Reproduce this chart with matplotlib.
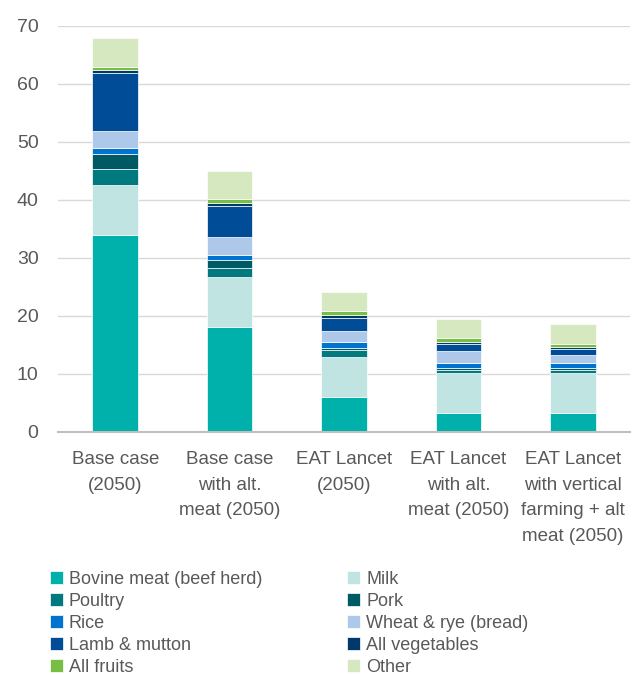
import matplotlib.pyplot as plt
import numpy as np

plt.rcParams['font.family'] = 'Liberation Sans'

# Scenario labels
scenarios = [
    'Base case\n(2050)',
    'Base case\nwith alt.\nmeat (2050)',
    'EAT Lancet\n(2050)',
    'EAT Lancet\nwith alt.\nmeat (2050)',
    'EAT Lancet\nwith vertical\nfarming + alt\nmeat (2050)',
]

# Stack segments, bottom to top
bovine = [33.9, 18.1, 6.0, 3.2, 3.2]
milk = [8.7, 8.7, 6.9, 6.9, 6.9]
poultry = [2.8, 1.5, 1.2, 0.6, 0.6]
pork = [2.6, 1.4, 0.4, 0.3, 0.3]
rice = [1.0, 0.9, 1.0, 0.9, 0.9]
wheat = [2.9, 3.0, 2.0, 2.1, 1.4]
lamb = [10.0, 5.4, 2.2, 1.1, 1.0]
vegetables = [0.5, 0.4, 0.4, 0.4, 0.4]
fruits = [0.6, 0.7, 0.7, 0.7, 0.5]
other = [5.0, 4.9, 3.3, 3.3, 3.4]

series = [
    ('Bovine meat (beef herd)', bovine, '#00B0AA'),
    ('Milk', milk, '#BFE4E1'),
    ('Poultry', poultry, '#007A7E'),
    ('Pork', pork, '#005A64'),
    ('Rice', rice, '#0073CF'),
    ('Wheat & rye (bread)', wheat, '#ADC8E8'),
    ('Lamb & mutton', lamb, '#004C97'),
    ('All vegetables', vegetables, '#003A6B'),
    ('All fruits', fruits, '#78BE44'),
    ('Other', other, '#D5E8C0'),
]

text_col = '#595959'

fig = plt.figure(figsize=(6.42, 6.75), dpi=100)
ax = fig.add_axes([58 / 642, 1 - 432 / 675, 572 / 642, 406 / 675])

x = np.arange(len(scenarios))
bottom = np.zeros(len(scenarios))
handles = []
for name, vals, col in series:
    b = ax.bar(x, vals, 0.4, bottom=bottom, color=col, edgecolor='white',
               linewidth=0.5, label=name, zorder=3)
    handles.append(b)
    bottom += np.array(vals)

ax.set_xlim(-0.5, 4.5)
ax.set_ylim(0, 70)
ax.set_yticks(range(0, 71, 10))
ax.yaxis.grid(True, color='#D9D9D9', linewidth=1, zorder=0)
ax.set_axisbelow(True)
for s in ['top', 'right', 'left']:
    ax.spines[s].set_visible(False)
ax.spines['bottom'].set_color('#BFBFBF')
ax.spines['bottom'].set_linewidth(1.5)
ax.spines['bottom'].set_zorder(4)
ax.tick_params(axis='both', length=0, labelsize=14, colors=text_col)
ax.tick_params(axis='y', pad=14)
ax.tick_params(axis='x', pad=14)
ax.set_xticks(x)
ax.set_xticklabels(scenarios, fontsize=13.5, color=text_col, linespacing=1.65)

# legend: row-wise order in the original, matplotlib fills column-first
order = [0, 2, 4, 6, 8, 1, 3, 5, 7, 9]
fig.legend([handles[i] for i in order], [series[i][0] for i in order],
           loc='upper left', bbox_to_anchor=(50 / 642, 1 - 571 / 675),
           ncol=2, frameon=False, fontsize=13, handlelength=0.7,
           handleheight=0.7, handletextpad=0.35, labelspacing=0.27,
           columnspacing=4.7, borderaxespad=0, borderpad=0,
           labelcolor=text_col)

fig.savefig('out.png', dpi=100)
